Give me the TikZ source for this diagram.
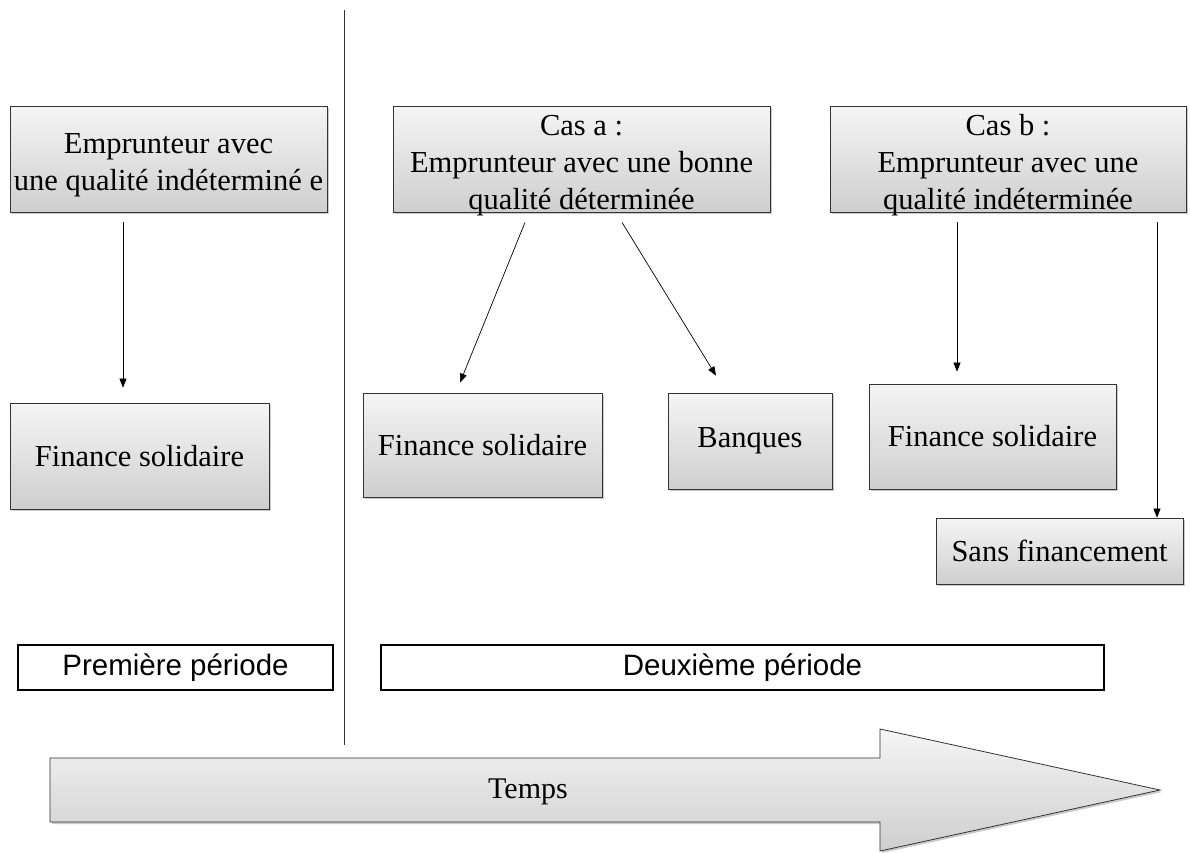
\documentclass[tikz,border=0pt]{standalone}
\usepackage{fontspec}
\setmainfont{Liberation Serif}
\newfontfamily\arialf{Liberation Sans}
\usetikzlibrary{arrows.meta,shadows}
\newcommand{\mlines}[1]{\raisebox{-12pt}[0pt][0pt]{\begin{tabular}{@{}c@{}}#1\end{tabular}}}
\tikzset{
  box/.style={draw=black!80, line width=0.8pt, rectangle, top color=gray!8, bottom color=gray!38,
    drop shadow={shadow xshift=2pt, shadow yshift=-2pt, opacity=0.35, fill=black!60},
    align=center, inner sep=0pt, font=\fontsize{30.5}{37}\selectfont},
  period/.style={draw=black, line width=2pt, rectangle, fill=white, minimum height=45pt,
    font=\arialf\fontsize{29.5}{32}\selectfont},
  arr/.style={-{Triangle[length=9pt,width=7pt]}, line width=0.7pt},
}
\begin{document}
\begin{tikzpicture}[x=1pt,y=-1pt]
\useasboundingbox (0,0) rectangle (1190,852);

% boxes
\node[box, minimum width=317pt, minimum height=106pt] (A1) at (168.5,159) {\mlines{Emprunteur avec\\ une qualité indéterminé e}};
\node[box, minimum width=259pt, minimum height=106pt] (F1) at (139.5,456) {Finance solidaire};
\node[box, minimum width=377pt, minimum height=106pt] (CA) at (581.5,159) {\mlines{Cas a :\\Emprunteur avec une bonne\\qualité déterminée}};
\node[box, minimum width=239pt, minimum height=104pt] (FA) at (482.5,445) {Finance solidaire};
\node[box, minimum width=164pt, minimum height=96pt] (BQ) at (750,441) {Banques};
\node[box, minimum width=356pt, minimum height=106pt] (CB) at (1008,159) {\mlines{Cas b :\\Emprunteur avec une\\qualité indéterminée}};
\node[box, minimum width=247pt, minimum height=105pt] (FB) at (992.5,436.5) {Finance solidaire};
\node[box, minimum width=247pt, minimum height=66pt] (SF) at (1059.5,551) {Sans financement};

% connectors
\draw[arr] ([xshift=-45.5pt,yshift=-10pt]A1.south) -- ([xshift=-16.5pt,yshift=15pt]F1.north);
\draw[arr] ([xshift=-56.5pt,yshift=-10pt]CA.south) -- ([xshift=-22.5pt,yshift=10pt]FA.north);
\draw[arr] ([xshift=40.5pt,yshift=-10pt]CA.south) -- ([xshift=-34pt,yshift=17pt]BQ.north);
\draw[arr] ([xshift=-51pt,yshift=-10pt]CB.south) -- ([xshift=-35.5pt,yshift=12pt]FB.north);
\draw[arr] ([xshift=149pt,yshift=-10pt]CB.south) -- ([xshift=97.5pt]SF.north);

% separator
\coordinate (sepT) at (344,10);
\coordinate (sepB) at (344,745);
\draw[line width=0.8pt, black!80] (sepT) -- (sepB);

% periods
\node[period, minimum width=315pt] (P1) at (175.5,667.5) {Première période};
\node[period, minimum width=723pt] (P2) at (742.5,667.5) {Deuxième période};

% time arrow
\draw[line width=0.8pt, black!80, top color=gray!8, bottom color=gray!38,
  drop shadow={shadow xshift=2pt, shadow yshift=-2pt, opacity=0.35, fill=black!60}]
  (50,758) -- (880,758) -- (880,729) -- (1160,790) -- (880,851) -- (880,822) -- (50,822) -- cycle;
\node[font=\fontsize{30}{34}\selectfont] (T) at (528,792) {Temps};
\end{tikzpicture}
\end{document}
